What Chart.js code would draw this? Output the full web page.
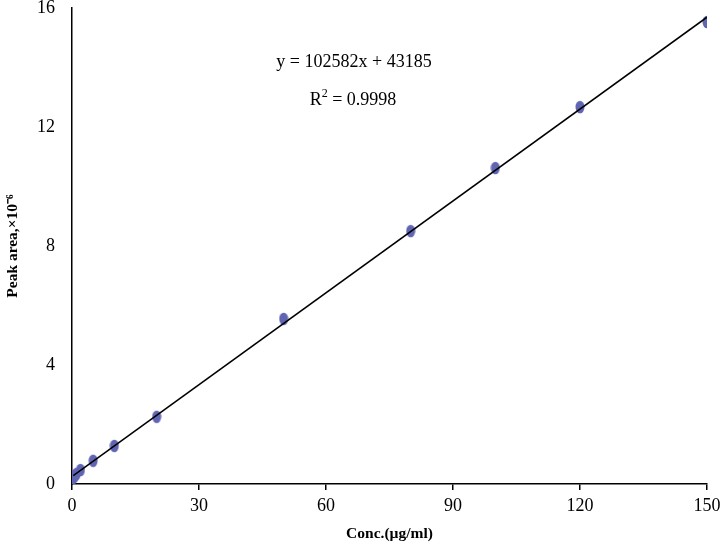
<!DOCTYPE html>
<html>
<head>
<meta charset="utf-8">
<script src="https://cdn.jsdelivr.net/npm/chart.js@4"></script>
<style>
html,body{margin:0;padding:0;background:#fff;}
#wrap{width:722px;height:547px;}
</style>
</head>
<body>
<div id="wrap"><canvas id="c" width="722" height="547"></canvas></div>
<script>
// Data (peak area in units of 10^6)
const concentrations = [0.3, 0.6, 1, 2, 5, 10, 20, 50, 80, 100, 120, 150];
const peakAreas = [0.2, 0.27, 0.33, 0.47, 0.78, 1.28, 2.26, 5.55, 8.5, 10.62, 12.67, 15.53];
const xTicks = [0, 30, 60, 90, 120, 150];
const yTicks = [0, 4, 8, 12, 16];
const equationText = "y = 102582x + 43185";
const r2Label = "R";
const r2Sup = "2";
const r2Value = " = 0.9998";

// least-squares trendline through the plotted points
const n = concentrations.length;
const mx = concentrations.reduce((a, b) => a + b, 0) / n;
const my = peakAreas.reduce((a, b) => a + b, 0) / n;
let sxy = 0, sxx = 0;
for (let i = 0; i < n; i++) {
  sxy += (concentrations[i] - mx) * (peakAreas[i] - my);
  sxx += (concentrations[i] - mx) ** 2;
}
const fitSlope = sxy / sxx;
const fitIntercept = my - fitSlope * mx;
const fitX = [concentrations[0], concentrations[n - 1]];
const fitLine = fitX.map(x => ({x: x, y: fitSlope * x + fitIntercept}));

// ellipse marker
const mk = document.createElement('canvas');
mk.width = 10; mk.height = 14;
const mctx = mk.getContext('2d');
mctx.fillStyle = 'rgb(96,101,178)';
mctx.beginPath();
mctx.ellipse(5, 7, 4.5, 6.3, 0, 0, Math.PI * 2);
mctx.fill();

const textPlugin = {
  id: 'eqText',
  afterDraw(chart) {
    const ctx = chart.ctx;
    ctx.save();
    ctx.fillStyle = '#000';
    ctx.font = '18px "Liberation Serif"';
    ctx.textAlign = 'center';
    ctx.textBaseline = 'middle';
    ctx.fillText(equationText, 354, 62);
    const wR = ctx.measureText(r2Label).width;
    const wV = ctx.measureText(r2Value).width;
    ctx.font = '12px "Liberation Serif"';
    const wS = ctx.measureText(r2Sup).width;
    const total = wR + wS + wV;
    let x0 = 353 - total / 2;
    ctx.textAlign = 'left';
    ctx.font = '18px "Liberation Serif"';
    ctx.fillText(r2Label, x0, 100);
    ctx.font = '12px "Liberation Serif"';
    ctx.fillText(r2Sup, x0 + wR, 94);
    ctx.font = '18px "Liberation Serif"';
    ctx.fillText(r2Value, x0 + wR + wS, 100);
    ctx.restore();
  }
};

new Chart(document.getElementById('c'), {
  type: 'scatter',
  data: {
    datasets: [
      {
        type: 'line',
        data: fitLine,
        borderColor: '#000',
        borderWidth: 1.5,
        pointRadius: 0,
        fill: false
      },
      {
        data: concentrations.map((x, i) => ({x: x, y: peakAreas[i]})),
        pointStyle: mk,
        pointRadius: 6,
        backgroundColor: 'rgb(96,101,178)'
      }
    ]
  },
  plugins: [textPlugin],
  options: {
    responsive: false,
    animation: false,
    layout: {padding: {top: 8, right: 15, left: 0, bottom: 0}},
    plugins: {legend: {display: false}, tooltip: {enabled: false}},
    scales: {
      x: {
        type: 'linear',
        min: 0, max: 150,
        afterBuildTicks(scale) { scale.ticks = xTicks.map(v => ({value: v})); },
        afterFit(scale) { scale.height = 63; scale.paddingLeft = 0; scale.paddingRight = 0; },
        border: {display: true, color: '#000', width: 1.5},
        grid: {display: true, drawOnChartArea: false, drawTicks: true, tickLength: 6, color: '#000', lineWidth: 1.5},
        ticks: {color: '#000', font: {family: '"Liberation Serif"', size: 18}, padding: 5, maxRotation: 0},
        title: {display: true, text: 'Conc.(\u00B5g/ml)', color: '#000', font: {family: '"Liberation Serif"', size: 15.5, weight: 'bold'}, padding: {top: 6, bottom: 4}}
      },
      y: {
        type: 'linear',
        min: 0, max: 16,
        afterBuildTicks(scale) { scale.ticks = yTicks.map(v => ({value: v})); },
        afterFit(scale) { scale.width = 72; scale.paddingTop = 0; scale.paddingBottom = 0; },
        border: {display: true, color: '#000', width: 1.5},
        grid: {display: true, drawOnChartArea: false, drawTicks: true, tickLength: 0, color: '#000'},
        ticks: {color: '#000', font: {family: '"Liberation Serif"', size: 18}, padding: 17},
        title: {display: true, text: 'Peak area,\u00D710\u207B\u2076', color: '#000', font: {family: '"Liberation Serif"', size: 15.5, weight: 'bold'}, padding: {top: 4, bottom: 0}}
      }
    }
  }
});
</script>
</body>
</html>
